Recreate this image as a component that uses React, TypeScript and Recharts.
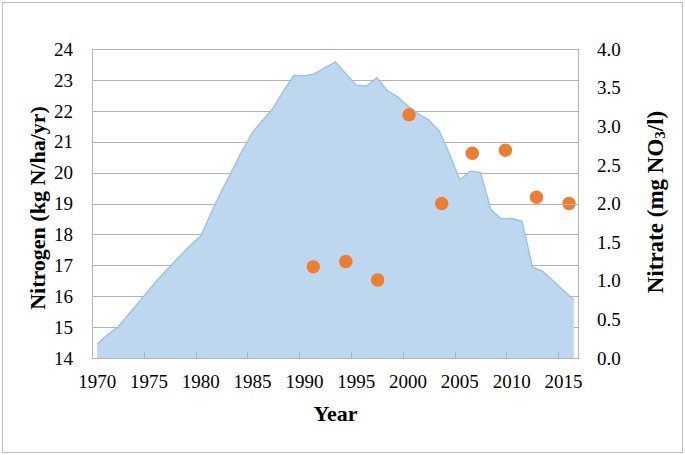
import React from 'react';
import { ComposedChart, Area, Scatter, XAxis, YAxis } from 'recharts';

const years = [
  1970, 1971, 1972, 1973, 1974, 1975, 1976, 1977, 1978, 1979,
  1980, 1981, 1982, 1983, 1984, 1985, 1986, 1987, 1988, 1989,
  1990, 1991, 1992, 1993, 1994, 1995, 1996, 1997, 1998, 1999,
  2000, 2001, 2002, 2003, 2004, 2005, 2006, 2007, 2008, 2009,
  2010, 2011, 2012, 2013, 2014, 2015, 2016,
];
const nitrogen = [
  14.45, 14.75, 15.0, 15.4, 15.8, 16.2, 16.6, 16.95, 17.3, 17.65,
  17.95, 18.7, 19.4, 20.05, 20.7, 21.3, 21.7, 22.1, 22.65, 23.15,
  23.13, 23.2, 23.4, 23.58, 23.2, 22.83, 22.8, 23.07, 22.65, 22.45,
  22.15, 21.9, 21.7, 21.35, 20.6, 19.75, 20.05, 20.0, 18.8, 18.5,
  18.52, 18.42, 16.95, 16.8, 16.5, 16.18, 15.88,
];
const nitrateYears = [1990.86, 1994.0, 1997.07, 2000.1, 2003.25, 2006.2, 2009.4, 2012.4, 2015.54];
const nitrate = [1.18, 1.25, 1.01, 3.15, 2.0, 2.65, 2.69, 2.08, 2.0];

const yearTicks = [1970, 1975, 1980, 1985, 1990, 1995, 2000, 2005, 2010, 2015];
const nitrogenTicks = [14, 15, 16, 17, 18, 19, 20, 21, 22, 23, 24];
const nitrateTicks = [0, 0.5, 1.0, 1.5, 2.0, 2.5, 3.0, 3.5, 4.0];

const areaData = years.map((year, i) => ({ year, nitrogen: nitrogen[i] }));
const scatterData = nitrateYears.map((year, i) => ({ year, nitrate: nitrate[i] }));

const FONT = '"Liberation Serif", "Times New Roman", serif';
const GRID = '#B4B4B4';
const W = 685;
const H = 455;
const LEFT_W = 92;
const RIGHT_W = 106;
const X_H = 97;
const TOP = 49;
const PLOT_W = W - LEFT_W - RIGHT_W;
const PLOT_H = H - TOP - X_H;
const HALF_CAT = PLOT_W / years.length / 2;
const TICK_SIZE = 6;
const X_TICK_MARGIN = 11;
const L_TICK_MARGIN = 13;
const N_MIN = 14;
const N_MAX = 24;
const X_MIN = 1969.5;
const X_MAX = 2016.5;

// Portions (in year units) of a gridline at value v that are not covered by the area
const visibleSpans = (v: number): [number, number][] => {
  if (v <= N_MIN) return [[X_MIN, X_MAX]];
  const spans: [number, number][] = [];
  const last = years.length - 1;
  let start = X_MIN;
  let visible = true;
  if (!(nitrogen[0] < v)) {
    spans.push([X_MIN, years[0]]);
    visible = false;
  }
  for (let i = 0; i < last; i++) {
    const a = nitrogen[i];
    const b = nitrogen[i + 1];
    if ((a < v) !== (b < v)) {
      const t = years[i] + ((v - a) / (b - a)) * (years[i + 1] - years[i]);
      if (visible) {
        spans.push([start, t]);
        visible = false;
      } else {
        start = t;
        visible = true;
      }
    }
  }
  if (visible) spans.push([start, X_MAX]);
  else spans.push([years[last], X_MAX]);
  return spans;
};

// left axis tick: label plus the horizontal gridline at that value (only where not under the area)
const LeftTick = (props: any) => {
  const { x, y, payload } = props;
  const plotLeft = Math.round(x + TICK_SIZE + L_TICK_MARGIN);
  const gy = Math.round(y);
  const toX = (yr: number) => plotLeft + ((yr - X_MIN) / (X_MAX - X_MIN)) * PLOT_W;
  const spans = visibleSpans(payload.value);
  return (
    <g>
      {spans.map(([s, e], i) => (
        <rect key={i} x={toX(s)} y={gy} width={Math.max(0, toX(e) - toX(s))} height={1} fill={GRID} stroke="none" />
      ))}
      {payload.value === N_MAX ? (
        <g>
          <rect x={plotLeft} y={gy} width={1} height={PLOT_H + 1} fill={GRID} stroke="none" />
          <rect x={plotLeft + PLOT_W - 1} y={gy} width={1} height={PLOT_H + 1} fill={GRID} stroke="none" />
        </g>
      ) : null}
      <text x={x} y={y} dy="0.355em" textAnchor="end" fontSize={19} fontFamily={FONT} fill="#000">
        {payload.value}
      </text>
    </g>
  );
};

const XTick = (props: any) => {
  const { x, y, payload } = props;
  const axisY = Math.round(y - TICK_SIZE - X_TICK_MARGIN);
  const mx = Math.round(x - HALF_CAT);
  return (
    <g>
      <rect x={mx} y={axisY - 6} width={1} height={6} fill="#A3B5C8" stroke="none" />
      <text x={x} y={y} dy="0.71em" textAnchor="middle" fontSize={19} fontFamily={FONT} fill="#000">
        {payload.value}
      </text>
    </g>
  );
};

const LeftTitle = () => (
  <text
    x={37}
    y={208}
    transform="rotate(-90 37 208)"
    textAnchor="middle"
    dominantBaseline="central"
    fontSize={22}
    fontWeight="bold"
    fontFamily={FONT}
    fill="#000"
  >
    Nitrogen (kg N/ha/yr)
  </text>
);

const RightTitle = () => (
  <text
    x={655}
    y={202}
    transform="rotate(-90 655 202)"
    textAnchor="middle"
    dominantBaseline="central"
    fontSize={23}
    fontWeight="bold"
    fontFamily={FONT}
    fill="#000"
  >
    Nitrate (mg NO<tspan dy={5} fontSize={15}>3</tspan><tspan dy={-5}>/l)</tspan>
  </text>
);

const XTitle = (props: any) => {
  const vb = props.viewBox || {};
  const cx = (vb.x ?? LEFT_W) + (vb.width ?? PLOT_W) / 2;
  return (
    <text x={cx} y={421} textAnchor="middle" fontSize={22} fontWeight="bold" fontFamily={FONT} fill="#000">
      Year
    </text>
  );
};

const Dot = (p: any) => <circle cx={p.cx} cy={p.cy} r={6.7} fill="#ED7D31" />;

export default function App() {
  return (
    <div style={{ position: 'absolute', left: 0, top: 0, width: W, height: H, background: '#fff' }}>
      <div
        style={{
          position: 'absolute',
          left: 2,
          top: 2,
          width: 681,
          height: 451,
          boxSizing: 'border-box',
          border: '1px solid #BFBFBF',
        }}
      />
      <ComposedChart
        width={W}
        height={H}
        data={areaData}
        margin={{ top: TOP, right: 0, bottom: 0, left: 0 }}
        style={{ position: 'absolute', left: 0, top: 0 }}
      >
        <YAxis
          orientation="left"
          width={LEFT_W}
          domain={[N_MIN, N_MAX]}
          ticks={nitrogenTicks}
          interval={0}
          allowDataOverflow
          tickLine={false}
          tickSize={TICK_SIZE}
          tickMargin={L_TICK_MARGIN}
          axisLine={false}
          tick={<LeftTick />}
          label={() => <LeftTitle />}
        />
        <YAxis
          yAxisId="right"
          orientation="right"
          width={RIGHT_W}
          domain={[0, 4]}
          ticks={nitrateTicks}
          interval={0}
          allowDataOverflow
          tickLine={false}
          tickSize={TICK_SIZE}
          tickMargin={12}
          axisLine={false}
          tickFormatter={(v: number) => v.toFixed(1)}
          tick={{ fontSize: 19, fontFamily: FONT, fill: '#000' }}
          label={() => <RightTitle />}
        />
        <XAxis
          dataKey="year"
          type="number"
          domain={[X_MIN, X_MAX]}
          allowDataOverflow
          ticks={yearTicks}
          interval={0}
          height={X_H}
          tickLine={false}
          tickSize={TICK_SIZE}
          tickMargin={X_TICK_MARGIN}
          axisLine={false}
          tick={<XTick />}
          label={(p: any) => <XTitle {...p} />}
        />
        <Area
          type="linear"
          dataKey="nitrogen"
          stroke="#9DC3E6"
          strokeWidth={1.5}
          fill="#BDD7EE"
          fillOpacity={1}
          isAnimationActive={false}
        />
        <Scatter
          yAxisId="right"
          data={scatterData}
          dataKey="nitrate"
          fill="#ED7D31"
          shape={Dot}
          isAnimationActive={false}
        />
      </ComposedChart>
    </div>
  );
}
